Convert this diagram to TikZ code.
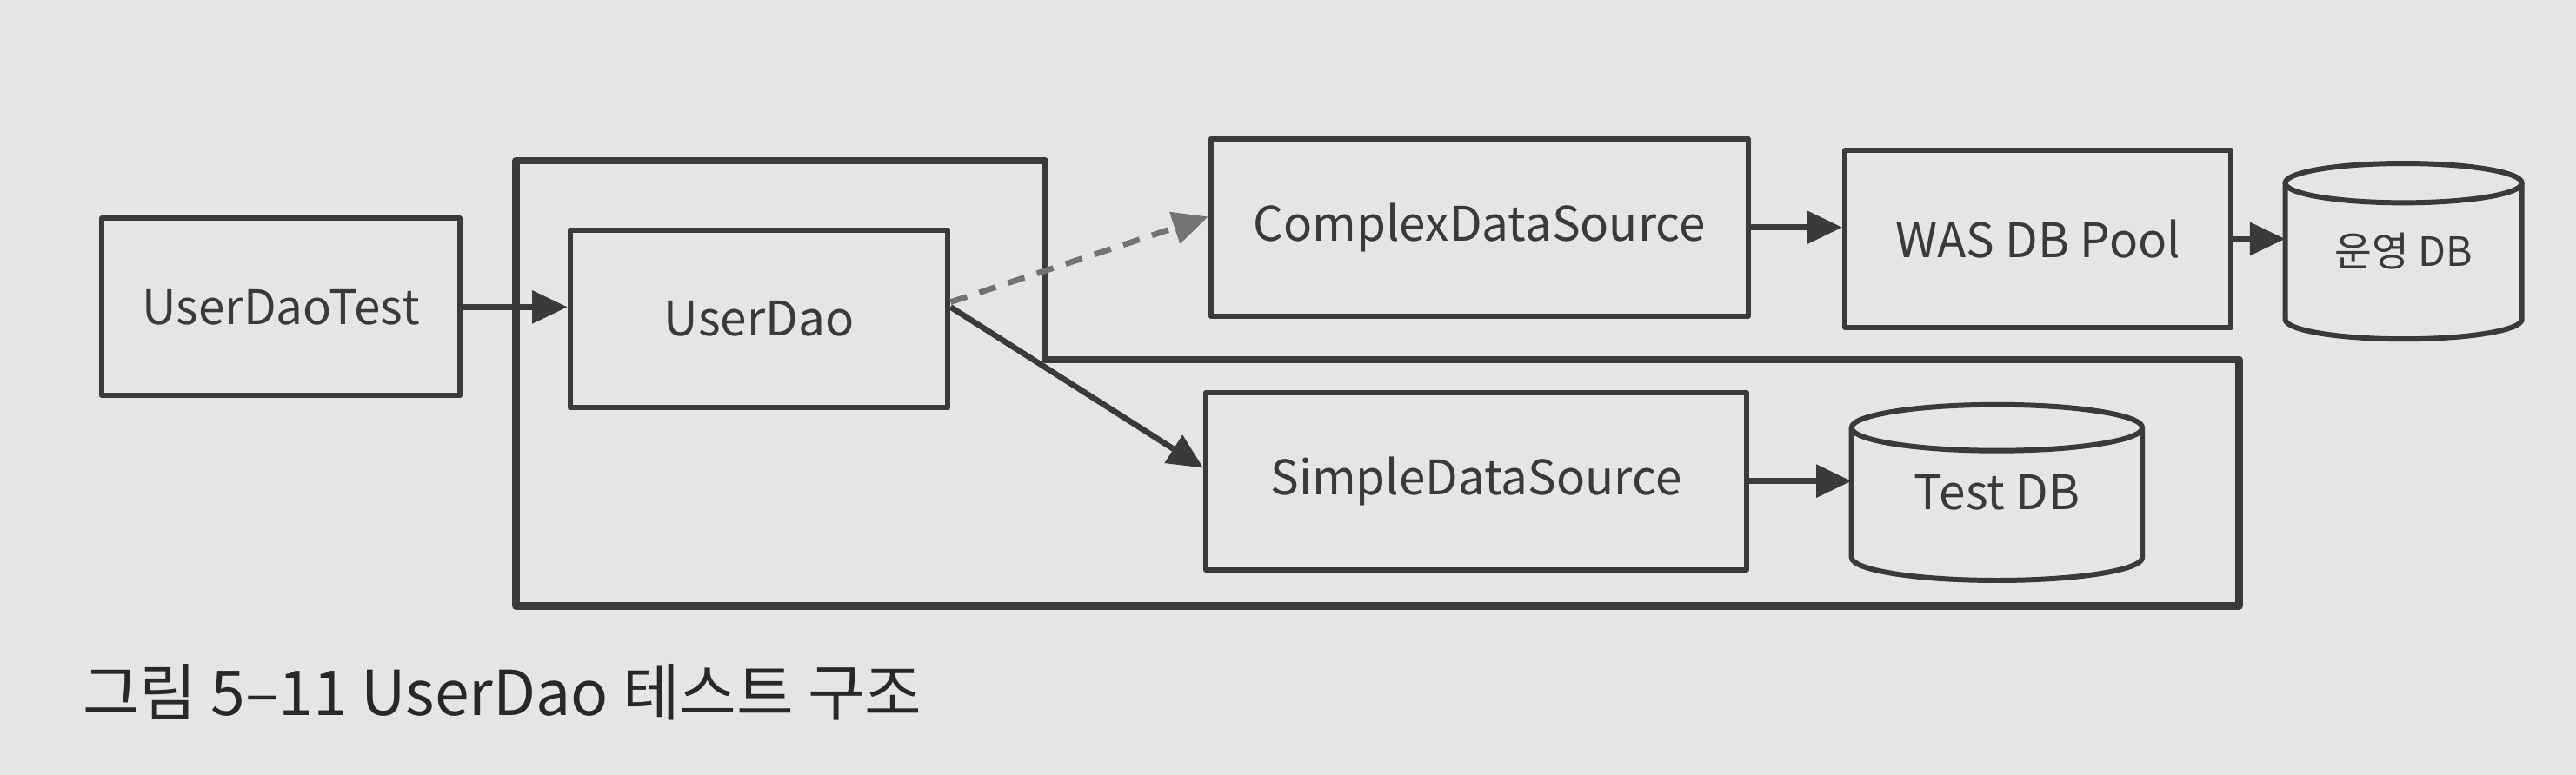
\documentclass[tikz,border=0pt]{standalone}
\usepackage{fontspec}
\setmainfont{Noto Sans CJK KR}
\usetikzlibrary{arrows.meta}
\definecolor{paper}{RGB}{229,229,227}
\definecolor{ink}{RGB}{58,58,58}
\definecolor{dashink}{RGB}{115,115,115}

\begin{document}
\begin{tikzpicture}[line join=round,
    box/.style={draw=ink,line width=1.8pt,minimum width=#1,minimum height=2.16cm,inner sep=0pt,text=ink,font=\fontsize{16.5}{20}\selectfont},
    dbbox/.style={box=#1,draw=none,outer sep=0pt,minimum height=2.14cm},
    link/.style={-{Triangle[length=4.3mm,width=3.9mm]},draw=ink,line width=2pt}]
    \fill[paper] (0,0) rectangle (31.36,9.44);
    \draw[ink,line width=2.6pt] (6.28,7.48) -- (12.72,7.48) -- (12.72,5.06) -- (27.26,5.06) -- (27.26,2.06) -- (6.28,2.06) -- cycle;
    \node[box=4.36cm] (udt) at (3.42,5.70) {UserDaoTest};
    \node[box=4.60cm] (ud) at (9.24,5.56) {UserDao};
    \node[box=6.54cm] (cds) at (18.01,6.67) {ComplexDataSource};
    \node[box=4.70cm] (was) at (24.81,6.53) {WAS DB Pool};
    \node[dbbox=2.88cm,font=\fontsize{14}{17}\selectfont] (db1) at (29.26,6.38) {운영 DB};
    \node[box=6.58cm] (sds) at (17.97,3.58) {SimpleDataSource};
    \node[dbbox=3.54cm] (tdb) at (24.31,3.44) {Test DB};
    \foreach \n/\r/\e in {db1/1.44/0.24,tdb/1.77/0.28}{
        \draw[ink,line width=1.8pt] ([yshift=-\e cm]\n.north) ellipse ({\r} and {\e});
        \draw[ink,line width=1.8pt] ([yshift=-\e cm]\n.north west) -- ([yshift=\e cm]\n.south west)
            arc[start angle=180,end angle=360,x radius=\r,y radius=\e] -- ([yshift=-\e cm]\n.north east);
    }
    \draw[link] (udt.east) -- (udt.east -| ud.west);
    \draw[link,draw=dashink,dash pattern=on 6pt off 4.5pt] ([yshift=2mm]ud.east) -- ([yshift=1.3mm]cds.west);
    \draw[link] ([yshift=1.4mm]ud.east) -- ([yshift=1.6mm]sds.west);
    \draw[link] (cds) -- (cds -| was.west);
    \draw[link] (was) -- (was -| db1.west);
    \draw[link] (sds) -- (sds -| tdb.west);
    \node[anchor=base west,inner sep=0pt,text={rgb,255:red,40;green,40;blue,40},font=\fontsize{21.5}{26}\selectfont] (cap) at (1.0,0.72) {그림 5–11 UserDao 테스트 구조};
\end{tikzpicture}
\end{document}
